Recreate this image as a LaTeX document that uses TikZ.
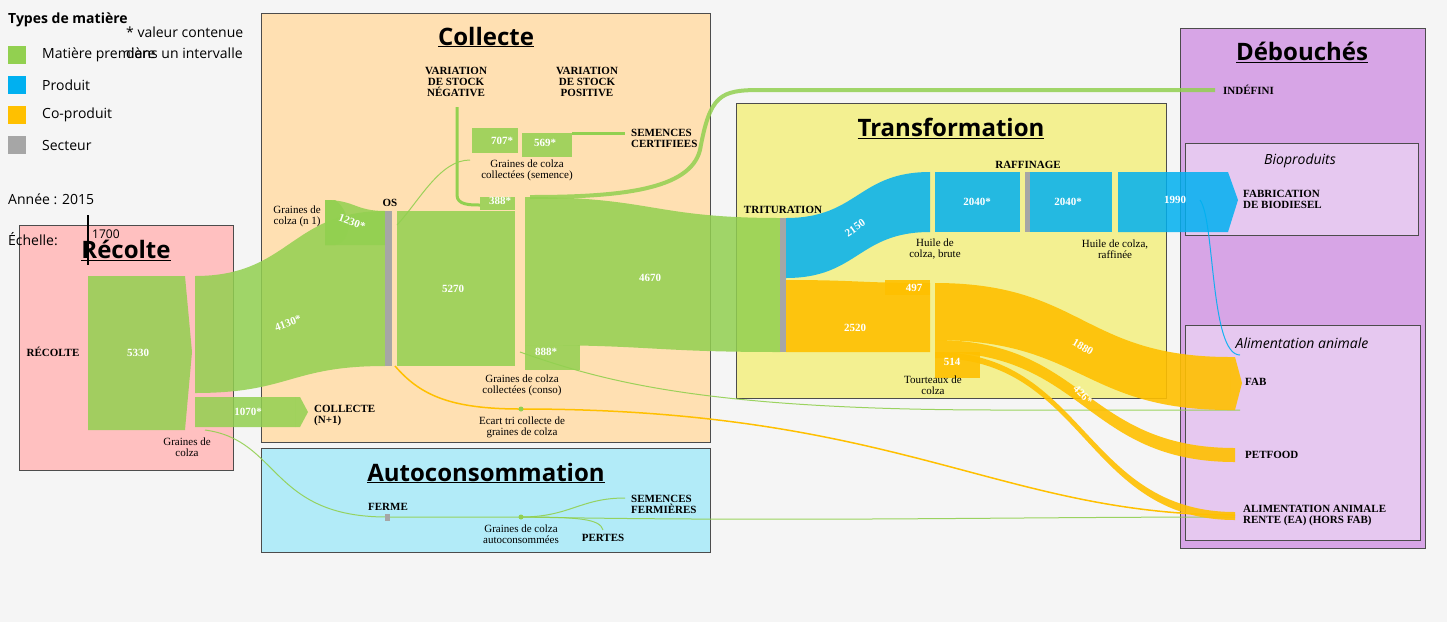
\documentclass[tikz,border=0pt]{standalone}
\usepackage{fontspec}
\setmainfont{Liberation Serif}
\newfontfamily\opensans{Open Sans}
\usepackage{tikz}
\usetikzlibrary{positioning}
\definecolor{mp}{RGB}{146,208,80}
\definecolor{prod}{RGB}{0,176,240}
\definecolor{cop}{RGB}{255,192,0}
\definecolor{sect}{RGB}{166,166,166}
\definecolor{bgrec}{RGB}{255,192,192}
\definecolor{bgcol}{RGB}{255,224,178}
\definecolor{bgauto}{RGB}{178,235,248}
\definecolor{bgtra}{RGB}{243,240,145}
\definecolor{bgdeb}{RGB}{215,165,230}
\definecolor{bgsub}{RGB}{230,200,240}
% band from (x1,ya1..yb1) to (x2,ya2..yb2)
\newcommand\band[7]{\fill[#7] (#1,#2) .. controls ({(#1+#4)/2},#2) and ({(#1+#4)/2},#5) .. (#4,#5) -- (#4,#6) .. controls ({(#1+#4)/2},#6) and ({(#1+#4)/2},#3) .. (#1,#3) -- cycle;}
\begin{document}
\begin{tikzpicture}[x=1pt,y=-1pt,
    zone/.style={draw=black!70, line width=0.5pt},
    title/.style={font=\opensans\bfseries\fontsize{24}{26}\selectfont},
    subtitle/.style={font=\opensans\itshape\fontsize{14}{16}\selectfont},
    lab/.style={font=\bfseries\fontsize{11}{11}\selectfont, align=left, inner sep=1pt},
    small/.style={font=\fontsize{11}{11}\selectfont, align=center, inner sep=1pt},
    val/.style={font=\bfseries\fontsize{11}{11}\selectfont, text=white, inner sep=1pt},
    legend/.style={font=\opensans\fontsize{14}{16}\selectfont, anchor=west, inner sep=0pt},
    fmp/.style={fill=mp, opacity=0.85},
    fprod/.style={fill=prod, opacity=0.85},
    fcop/.style={fill=cop, opacity=0.9},
    thin/.style={line width=1pt, opacity=0.9}]
  \fill[black!4] (0,0) rectangle (1447,622);
  \useasboundingbox (0,0) rectangle (1447,622);
  %zones
  \draw[zone, fill=bgrec] (19,225) rectangle (233,470);
  \draw[zone, fill=bgcol] (261,13) rectangle (710,442);
  \draw[zone, fill=bgauto] (261,448) rectangle (710,552);
  \draw[zone, fill=bgtra] (736,103) rectangle (1166,398);
  \draw[zone, fill=bgdeb] (1180,28) rectangle (1425,548);
  \draw[zone, fill=bgsub] (1185,143) rectangle (1418,235);
  \draw[zone, fill=bgsub] (1185,325) rectangle (1420,540);
  \node[title] (trec) at (126,250) {\underline{Récolte}};
  \node[title] (tcol) at (486,37) {\underline{Collecte}};
  \node[title] (taut) at (486,473) {\underline{Autoconsommation}};
  \node[title] (ttra) at (951,128) {\underline{Transformation}};
  \node[title] (tdeb) at (1302,52) {\underline{Débouchés}};
  \node[subtitle] (tbio) at (1300,161) {Bioproduits};
  \node[subtitle] (tali) at (1302,343) {Alimentation animale};
  %thin lines
  \draw[mp, thin] (205,430) .. controls (280,440) and (270,517) .. (387,517) -- (521,517);
  \draw[mp, thin] (521,517) .. controls (570,517) and (580,498) .. (625,498);
  \draw[mp, thin] (521,517) .. controls (580,517) and (600,519) .. (603,530);
  \draw[mp, thin] (521,517) .. controls (800,522) and (1000,517) .. (1235,517);
  \draw[cop, line width=1.5pt] (395,366) .. controls (420,395) and (450,409) .. (521,409);
  \draw[cop, line width=1.5pt] (521,409) .. controls (900,409) and (1000,515) .. (1235,515);
  \draw[mp, line width=4pt, opacity=0.85] (530,197) .. controls (620,197) and (690,190) .. (700,150) .. controls (710,95) and (720,90) .. (760,90) -- (1215,90);
  \draw[mp, thin] (397,225) .. controls (420,200) and (440,160) .. (470,160);
  \draw[mp, line width=3pt] (457,107) -- (457,195) .. controls (457,205) and (470,205) .. (480,205);
  \draw[mp, line width=3pt] (572,133) -- (625,133);
  \draw[mp, thin] (520,352) .. controls (600,380) and (700,410) .. (1000,410) -- (1240,410);
  \draw[prod, thin] (1200,200) .. controls (1215,220) and (1210,355) .. (1240,355);
  %bands
  \band{195}{276}{393}{385}{211}{366}{fmp}
  \band{195}{397}{427}{295}{397}{427}{fmp}
  \fill[fmp] (295,397) -- (300,397) -- (308,412) -- (300,427) -- (295,427) -- cycle;
  \fill[fmp] (88,276) -- (185,276) -- (192,352) -- (185,430) -- (88,430) -- cycle;
  \band{325}{200}{245}{385}{211}{245}{fmp}
  \fill[fmp] (325,200) -- (335,200) .. controls (350,210) and (355,240) .. (335,245) -- (325,245) -- cycle;
  \fill[fmp] (397,211) rectangle (515,366);
  \fill[fmp] (472,128) rectangle (518,153);
  \fill[fmp] (522,133) rectangle (572,157);
  \fill[fmp] (480,197) rectangle (515,210);
  \band{525}{197}{345}{780}{218}{352}{fmp}
  \fill[fmp] (525,345) rectangle (580,370);
  \fill[sect] (385,211) rectangle (392,366);
  \fill[sect] (780,218) rectangle (786,352);
  \fill[sect] (1025,172) rectangle (1030,232);
  \fill[sect] (385,514) rectangle (390,521);
  \band{786}{218}{278}{930}{172}{232}{fprod}
  \fill[fprod] (935,172) rectangle (1020,232);
  \fill[fprod] (1030,172) rectangle (1112,232);
  \fill[fprod] (1118,172) -- (1228,172) -- (1238,200) -- (1228,232) -- (1118,232) -- cycle;
  \band{786}{280}{352}{930}{283}{352}{fcop}
  \fill[fcop] (885,280) rectangle (930,295);
  \fill[fcop] (935,352) rectangle (980,378);
  \band{935}{283}{340}{1230}{357}{410}{fcop}
  \fill[fcop] (1230,357) -- (1235,357) -- (1242,383) -- (1235,410) -- (1230,410) -- cycle;
  \band{935}{340}{352}{1235}{448}{462}{fcop}
  \band{935}{352}{358}{1235}{512}{520}{fcop}
  \fill[mp] (521,409) circle (2.5);
  \fill[mp] (521,517) circle (2.5);
  %values
  \node[val] (v5330) at (138,353) {5330};
  \node[val, rotate=20] (v4130) at (288,323) {4130*};
  \node[val] (v1070) at (248,412) {1070*};
  \node[val, rotate=-20] (v1230) at (352,222) {1230*};
  \node[val] (v5270) at (453,289) {5270};
  \node[val] (v707) at (502,141) {707*};
  \node[val] (v569) at (545,143) {569*};
  \node[val] (v388) at (500,201) {388*};
  \node[val] (v4670) at (650,278) {4670};
  \node[val] (v888) at (546,352) {888*};
  \node[val, rotate=35] (v2150) at (855,228) {2150};
  \node[val] (v2040a) at (977,202) {2040*};
  \node[val] (v2040b) at (1068,202) {2040*};
  \node[val] (v1990) at (1175,200) {1990};
  \node[val] (v2520) at (855,328) {2520};
  \node[val] (v497) at (914,288) {497};
  \node[val] (v514) at (952,362) {514};
  \node[val, rotate=-30] (v1880) at (1083,347) {1880};
  \node[val, rotate=-45] (v426) at (1083,395) {426*};
  %labels
  \node[lab] (recolte) at (53,352) {RÉCOLTE};
  \node[small] (grains) at (187,447) {Graines de\\colza};
  \node[lab, anchor=west] (collnp1) at (313,416) {COLLECTE\\(N+1)};
  \node[small, anchor=east] (gn1) at (322,216) {Graines de\\colza (n 1)};
  \node[lab] (os) at (390,203) {OS};
  \node[lab, align=center] (varneg) at (456,82) {VARIATION\\DE STOCK\\NÉGATIVE};
  \node[lab, align=center] (varpos) at (587,82) {VARIATION\\DE STOCK\\POSITIVE};
  \node[lab, anchor=west] (semcert) at (630,138) {SEMENCES\\CERTIFIEES};
  \node[small] (gsem) at (527,170) {Graines de colza\\collectées (semence)};
  \node[small] (gconso) at (522,385) {Graines de colza\\collectées (conso)};
  \node[small] (ecart) at (522,427) {Ecart tri collecte de\\graines de colza};
  \node[lab] (ferme) at (388,507) {FERME};
  \node[small] (gauto) at (521,534) {Graines de colza\\autoconsommées};
  \node[lab, anchor=west] (semferm) at (630,504) {SEMENCES\\FERMIÈRES};
  \node[lab] (pertes) at (603,538) {PERTES};
  \node[lab] (trit) at (783,210) {TRITURATION};
  \node[small] (hbrute) at (935,249) {Huile de\\colza, brute};
  \node[lab] (raff) at (1028,165) {RAFFINAGE};
  \node[small] (hraff) at (1115,249) {Huile de colza,\\raffinée};
  \node[small] (tourt) at (933,385) {Tourteaux de\\colza};
  \node[lab, anchor=west] (indef) at (1222,90) {INDÉFINI};
  \node[lab, anchor=west] (biod) at (1242,199) {FABRICATION\\DE BIODIESEL};
  \node[lab, anchor=west] (fab) at (1244,382) {FAB};
  \node[lab, anchor=west] (petf) at (1244,455) {PETFOOD};
  \node[lab, anchor=west] (earente) at (1242,516) {ALIMENTATION ANIMALE\\RENTE (EA) (HORS FAB)};
  %legend
  \node[legend, font=\opensans\bfseries\fontsize{14}{16}\selectfont] (ltitle) at (8,20) {Types de matière};
  \fill[mp] (8,46) rectangle (26,64);
  \fill[prod] (8,76) rectangle (26,94);
  \fill[cop] (8,106) rectangle (26,124);
  \fill[sect] (8,136) rectangle (26,154);
  \node[legend] (lmp) at (42,55) {Matière première};
  \node[legend] (lprod) at (42,85) {Produit};
  \node[legend] (lcop) at (42,115) {Co-produit};
  \node[legend] (lsect) at (42,145) {Secteur};
  \node[legend] (inter) at (126,32) {* valeur contenue};
  \node[legend] (inter2) at (126,53) {dans un intervalle};
  \node[legend] (annee) at (8,199) {Année : 2015};
  \node[legend] (echelle) at (8,239) {Échelle:};
  \node[legend, font=\opensans\fontsize{12}{14}\selectfont] (e1700) at (92,234) {1700};
  \draw[line width=2pt] (88,215) -- (88,265);
\end{tikzpicture}
\end{document}
